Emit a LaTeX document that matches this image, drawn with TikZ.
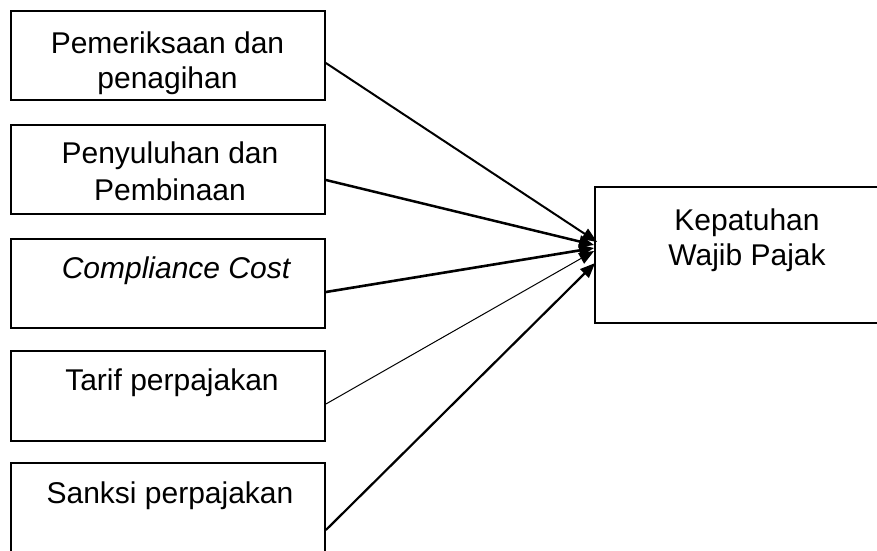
\documentclass[tikz,border=0pt]{standalone}
\usepackage{fontspec}
\setmainfont{Liberation Sans}
\usetikzlibrary{arrows.meta}
\begin{document}
\begin{tikzpicture}[x=1pt,y=-1pt,
  box/.style={draw=black,line width=1.8pt,minimum width=314pt,inner sep=0pt},
  txt/.style={anchor=north,inner sep=0pt,align=center,font=\fontsize{30}{35}\selectfont},
  arr/.style={-{Triangle[length=15pt,width=12pt]}}]
\useasboundingbox (0,0) rectangle (877,550);
\node[box,minimum height=89pt] (b1) at (168,55.5) {};
\node[box,minimum height=89pt] (b2) at (168,169.5) {};
\node[box,minimum height=89pt] (b3) at (168,283.5) {};
\node[box,minimum height=90pt] (b4) at (168,396) {};
\node[box,minimum height=92pt] (b5) at (168,509) {};
\node[draw=black,line width=1.8pt,minimum width=290pt,minimum height=136pt,inner sep=0pt] (k) at (740,255) {};
\node[txt] (t1) at (167.5,32) {Pemeriksaan dan\\penagihan};
\node[txt] (t2) at (170,142) {Penyuluhan dan\\[2pt]Pembinaan};
\node[txt] (t3) at (176,257) {\itshape Compliance Cost};
\node[txt] (t4) at (172,369) {Tarif perpajakan};
\node[txt] (t5) at (170,482) {Sanksi perpajakan};
\node[txt] (t6) at (747,209) {Kepatuhan\\Wajib Pajak};
\draw[arr,line width=2pt] ([yshift=-7.5pt]b1.east) -- ([xshift=3pt,yshift=13pt]k.west);
\draw[arr,line width=2.5pt] ([yshift=-10.5pt]b2.east) -- ([yshift=10pt]k.west);
\draw[arr,line width=2.6pt] ([yshift=-8.5pt]b3.east) -- ([yshift=7pt]k.west);
\draw[arr,line width=1pt] ([yshift=-8pt]b4.east) -- ([yshift=4pt]k.west);
\draw[arr,line width=2.2pt] ([yshift=-21pt]b5.east) -- ([xshift=1pt,yshift=-8pt]k.west);
\end{tikzpicture}
\end{document}
